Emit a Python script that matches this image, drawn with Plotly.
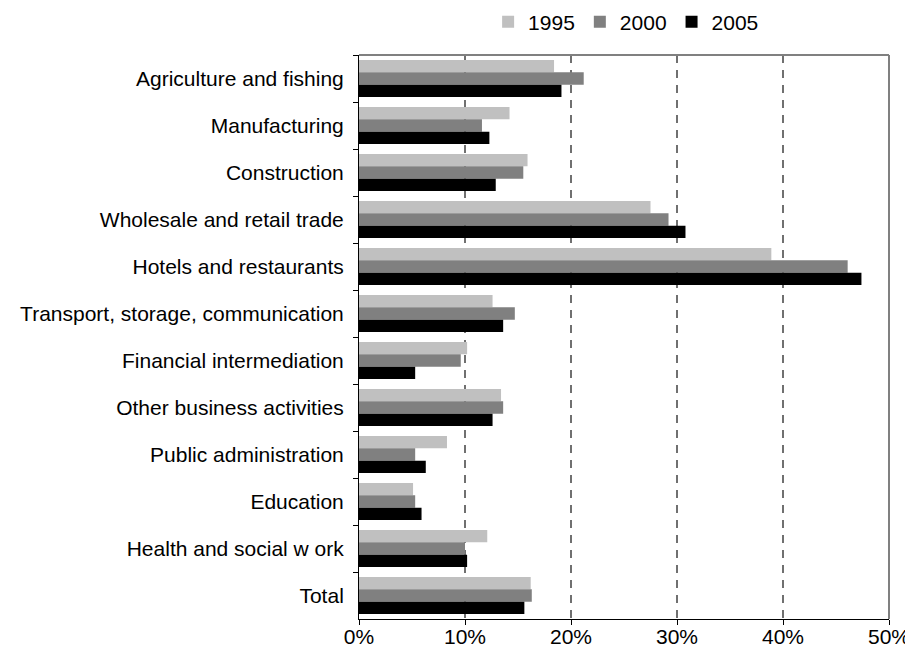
import plotly.graph_objects as go

categories = [
    "Agriculture and fishing",
    "Manufacturing",
    "Construction",
    "Wholesale and retail trade",
    "Hotels and restaurants",
    "Transport, storage, communication",
    "Financial intermediation",
    "Other business activities",
    "Public administration",
    "Education",
    "Health and social w ork",
    "Total",
]

values_1995 = [18.4, 14.2, 15.9, 27.5, 38.9, 12.6, 10.2, 13.4, 8.3, 5.1, 12.1, 16.2]
values_2000 = [21.2, 11.6, 15.5, 29.2, 46.1, 14.7, 9.6, 13.6, 5.3, 5.3, 10.0, 16.3]
values_2005 = [19.1, 12.3, 12.9, 30.8, 47.4, 13.6, 5.3, 12.6, 6.3, 5.9, 10.2, 15.6]

series = [
    ("1995", values_1995, "#C0C0C0"),
    ("2000", values_2000, "#808080"),
    ("2005", values_2005, "#000000"),
]

x_ticks = [0, 10, 20, 30, 40, 50]
x_ticktext = [f"{v}%" for v in x_ticks]

fig = go.Figure()
for name, vals, color in series:
    fig.add_trace(go.Bar(
        name=name, y=categories, x=vals, orientation="h",
        marker=dict(color=color, line=dict(width=0)),
    ))

font = dict(family="Arial, Liberation Sans, sans-serif", size=21, color="#000000")

fig.update_layout(
    width=913, height=659,
    margin=dict(l=351, r=32, t=47, b=48, autoexpand=False),
    paper_bgcolor="white", plot_bgcolor="white",
    font=font,
    barmode="group", bargap=0.21, bargroupgap=0,
    showlegend=True,
    legend=dict(orientation="h", x=0.504, xanchor="center", y=1.0585, yanchor="middle",
                font=font, traceorder="normal", bgcolor="rgba(0,0,0,0)"),
    xaxis=dict(
        range=[0, 50], tickvals=x_ticks, ticktext=x_ticktext,
        showgrid=True, gridcolor="#707070", griddash="8px,7px", gridwidth=1.5,
        showline=True, linecolor="#000000", linewidth=1,
        ticks="outside", ticklen=5, tickcolor="#000000", ticklabelstandoff=-6,
        zeroline=False, tickfont=font, automargin=False,
    ),
    yaxis=dict(
        autorange="reversed", type="category",
        showgrid=False, showline=True, linecolor="#000000", linewidth=1,
        ticks="outside", ticklen=5, tickcolor="#000000", tickson="boundaries",
        ticklabelstandoff=10,
        zeroline=False, tickfont=font, automargin=False,
    ),
    shapes=[
        dict(type="line", xref="paper", yref="paper", x0=0, x1=1, y0=1, y1=1,
             line=dict(color="#808080", width=2), layer="above"),
        dict(type="line", xref="paper", yref="paper", x0=1, x1=1, y0=0, y1=1,
             line=dict(color="#808080", width=2), layer="above"),
    ],
)

fig.write_html("out.html")
